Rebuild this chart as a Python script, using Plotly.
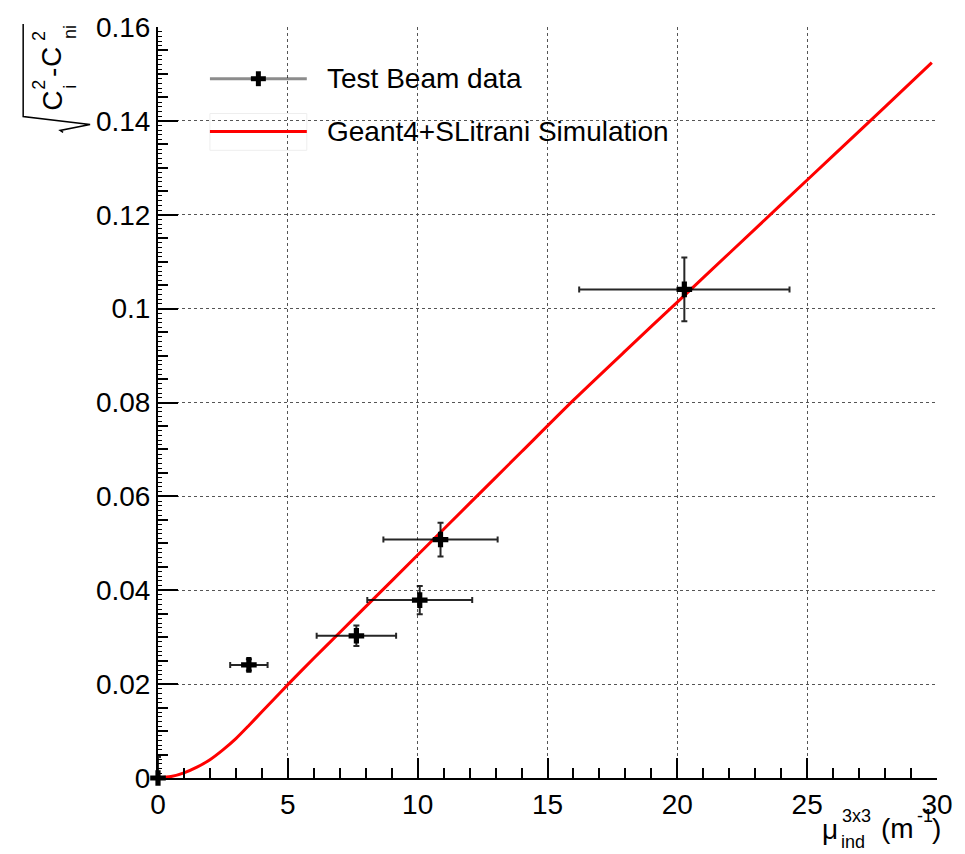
import plotly.graph_objects as go

# ---- data ----
data_x = [0.0, 3.5, 7.64, 10.08, 10.88, 20.27]
data_y = [0.0, 0.0241, 0.0303, 0.0379, 0.0508, 0.1041]
data_xerr = [0.0, 0.72, 1.53, 2.02, 2.2, 4.05]
data_yerr = [0.0045, 0.0012, 0.0022, 0.003, 0.0036, 0.0068]

sim_x = [0, 0.5, 1, 1.5, 2, 2.5, 3, 3.5, 4, 4.5, 5, 6, 7, 8, 10, 12, 14, 16, 18, 20, 22, 24, 26, 28, 29.8]
sim_y = [0, 0.0003, 0.0011, 0.0023, 0.0039, 0.0060, 0.0084, 0.0112, 0.0141, 0.0170, 0.0199,
         0.0255, 0.0310, 0.0365, 0.0475, 0.0585, 0.0695, 0.0805, 0.0910, 0.1014, 0.1118,
         0.1222, 0.1326, 0.1430, 0.1524]

x_ticks = [0, 5, 10, 15, 20, 25, 30]
x_ticktext = ["0", "5", "10", "15", "20", "25", "30"]
y_ticks = [0, 0.02, 0.04, 0.06, 0.08, 0.1, 0.12, 0.14, 0.16]
y_ticktext = ["0", "0.02", "0.04", "0.06", "0.08", "0.1", "0.12", "0.14", "0.16"]

legend_labels = ["Test Beam data", "Geant4+SLitrani Simulation"]

FONT = "Liberation Sans, Arial, Helvetica, sans-serif"
W, H = 965, 854
ML, MR, MT, MB = 158, 27, 23, 76
PW, PH = W - ML - MR, H - MT - MB


def px(xp):
    return (xp - ML) / PW


def py(yp):
    return (H - MB - yp) / PH


fig = go.Figure()

fig.add_trace(go.Scatter(
    x=sim_x, y=sim_y, mode="lines", name=legend_labels[1],
    line=dict(color="#ff0000", width=3, shape="spline", smoothing=0.6), showlegend=False))

fig.add_trace(go.Scatter(
    x=data_x, y=data_y, mode="markers", name=legend_labels[0],
    marker=dict(symbol="cross", size=13, color="black"),
    error_x=dict(type="data", array=data_xerr, color="rgba(0,0,0,0.85)", thickness=2, width=3),
    error_y=dict(type="data", array=data_yerr, color="rgba(0,0,0,0.85)", thickness=2, width=3),
    cliponaxis=False, showlegend=False))

# invisible trace carrying the fine-tick axis
fig.add_trace(go.Scatter(x=[None], y=[None], yaxis="y2", showlegend=False, hoverinfo="skip"))

axis_common = dict(
    showline=True, linecolor="black", linewidth=2, mirror=False,
    ticks="inside", tickcolor="black", tickwidth=2,
    showgrid=True, gridcolor="#555555", griddash="dot", gridwidth=1,
    zeroline=False, tickfont=dict(family=FONT, size=28, color="black"),
)

fig.update_layout(
    width=W, height=H,
    margin=dict(l=ML, r=MR, t=MT, b=MB),
    paper_bgcolor="white", plot_bgcolor="white",
    showlegend=False,
    xaxis=dict(range=[0, 30], tickvals=x_ticks, ticktext=x_ticktext, ticklen=20,
               minor=dict(dtick=1, ticklen=10, tickcolor="black", tickwidth=1.5, ticks="inside", showgrid=False),
               **axis_common),
    yaxis=dict(range=[0, 0.16], tickvals=y_ticks, ticktext=y_ticktext, ticklen=20,
               minor=dict(dtick=0.005, ticklen=10, tickcolor="black", tickwidth=1.5, ticks="inside", showgrid=False),
               **axis_common),
    yaxis2=dict(range=[0, 0.16], overlaying="y", side="left", anchor="x",
                ticks="inside", dtick=0.001, tick0=0, ticklen=4, tickwidth=1, tickcolor="black",
                showticklabels=False, showgrid=False, showline=False, zeroline=False),
)

shapes = []
ann = []


def label(text, x, y, size, angle=0, xanchor="center", yanchor="middle"):
    ann.append(dict(xref="paper", yref="paper", x=px(x), y=py(y), xanchor=xanchor, yanchor=yanchor,
                    text=text, showarrow=False, textangle=angle,
                    font=dict(family=FONT, size=size, color="black")))


# ---- custom legend (ROOT style) ----
shapes.append(dict(type="line", xref="paper", yref="paper", x0=px(210), x1=px(307), y0=py(75), y1=py(75),
                   line=dict(color="rgba(0,0,0,0.45)", width=3)))
shapes.append(dict(type="rect", xref="paper", yref="paper", x0=px(251), x1=px(266), y0=py(72.5), y1=py(77.5),
                   fillcolor="black", line=dict(width=0)))
shapes.append(dict(type="rect", xref="paper", yref="paper", x0=px(256), x1=px(261), y0=py(67.5), y1=py(82.5),
                   fillcolor="black", line=dict(width=0)))
shapes.append(dict(type="rect", xref="paper", yref="paper", x0=px(210), x1=px(307), y0=py(110), y1=py(147),
                   line=dict(color="#eeeeee", width=1), fillcolor="rgba(0,0,0,0)"))
shapes.append(dict(type="line", xref="paper", yref="paper", x0=px(210), x1=px(307), y0=py(128), y1=py(128),
                   line=dict(color="#ff0000", width=3)))
label(legend_labels[0], 325, 75, 28, xanchor="left")
label(legend_labels[1], 325, 128, 28, xanchor="left")

# ---- y-axis title: sqrt(C_i^2 - C_ni^2), rotated, ROOT-like stacked indices ----
label("C", 52, 97, 28, angle=-90)
label("2", 39, 81, 18, angle=-90)
label("i", 70, 83, 18, angle=-90)
label("-", 53, 69, 28, angle=-90)
label("C", 52, 53, 28, angle=-90)
label("2", 39, 32, 18, angle=-90)
label("ni", 70, 28, 18, angle=-90)
rad = [(23, 20), (23, 113), (90, 121), (60, 127), (63, 129)]
path = "M " + " L ".join(f"{px(a):.5f},{py(b):.5f}" for a, b in rad)
shapes.append(dict(type="path", xref="paper", yref="paper", path=path,
                   line=dict(color="black", width=1.5)))

# ---- x-axis title: mu_ind^3x3 (m^-1) ----
label("μ", 821, 830, 28, xanchor="left")
label("3x3", 841, 816, 18, xanchor="left")
label("ind", 840, 842, 18, xanchor="left")
label("(m", 880, 829, 28, xanchor="left")
label("-1", 916, 816, 18, xanchor="left")
label(")", 931, 829, 28, xanchor="left")

fig.update_layout(shapes=shapes, annotations=ann)

fig.write_html("out.html")
